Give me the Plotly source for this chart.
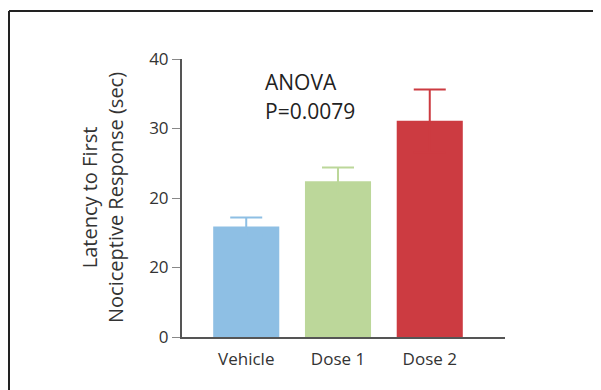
import plotly.graph_objects as go

categories = ["Vehicle", "Dose 1", "Dose 2"]
means = [15.9, 22.4, 31.1]
errors = [1.3, 2.0, 4.5]
bar_colors = ["#8ebfe4", "#bcd79a", "#cc3b41"]
tick_vals = [0, 10, 20, 30, 40]
tick_text = ["0", "20", "20", "30", "40"]

FONT = "Open Sans"
OFF = 8  # page body margin offset

fig = go.Figure()
for cat, m, e, c in zip(categories, means, errors, bar_colors):
    fig.add_trace(go.Bar(
        x=[cat], y=[m],
        marker=dict(color=c, line=dict(width=0)),
        width=0.72,
        error_y=dict(type="data", array=[e], symmetric=True,
                     color=c, thickness=2, width=16),
        showlegend=False,
    ))

W, H = 601, 390
# screen positions of plot area
SL, SR, ST, SB = 182, 505, 59, 337
L, T = SL - OFF, ST - OFF
pw, ph = SR - SL, SB - ST
R, B = W - L - pw, H - T - ph

def px(x):
    return (x - OFF - L) / pw

def py(y):
    return (T + ph - (y - OFF)) / ph

fig.update_layout(
    width=W, height=H,
    margin=dict(l=L, r=R, t=T, b=B),
    plot_bgcolor="white", paper_bgcolor="white",
    font=dict(family=FONT, color="#333333"),
    barmode="overlay",
    xaxis=dict(
        type="category", range=[-0.7, 2.82],
        showline=True, linecolor="#555555", linewidth=2,
        ticks="", showgrid=False, zeroline=False,
        tickfont=dict(size=17, color="#333333"),
        ticklabelstandoff=6,
    ),
    yaxis=dict(
        range=[0, 40],
        tickvals=tick_vals, ticktext=tick_text,
        showline=True, linecolor="#555555", linewidth=2,
        ticks="outside", ticklen=8, tickcolor="#888888", tickwidth=1,
        showgrid=False, zeroline=False,
        tickfont=dict(size=17, color="#333333"),
    ),
    annotations=[
        dict(text="Latency to First<br>Nociceptive Response (sec)",
             xref="paper", yref="paper", x=px(102), y=py(198),
             xanchor="center", yanchor="middle", textangle=-90,
             showarrow=False, font=dict(size=20, color="#333333", family=FONT)),
        dict(text="ANOVA", xref="paper", yref="paper",
             x=px(263), y=py(82), xanchor="left", yanchor="middle",
             showarrow=False, font=dict(size=21, color="#222222", family=FONT)),
        dict(text="P=0.0079", xref="paper", yref="paper",
             x=px(263), y=py(111), xanchor="left", yanchor="middle",
             showarrow=False, font=dict(size=21, color="#222222", family=FONT)),
    ],
    shapes=[
        dict(type="line", xref="paper", yref="paper",
             x0=px(9), x1=px(620), y0=py(11), y1=py(11),
             line=dict(color="#222222", width=2)),
        dict(type="line", xref="paper", yref="paper",
             x0=px(9), x1=px(9), y0=py(11), y1=py(420),
             line=dict(color="#222222", width=2)),
    ],
)

fig.write_html("out.html")
